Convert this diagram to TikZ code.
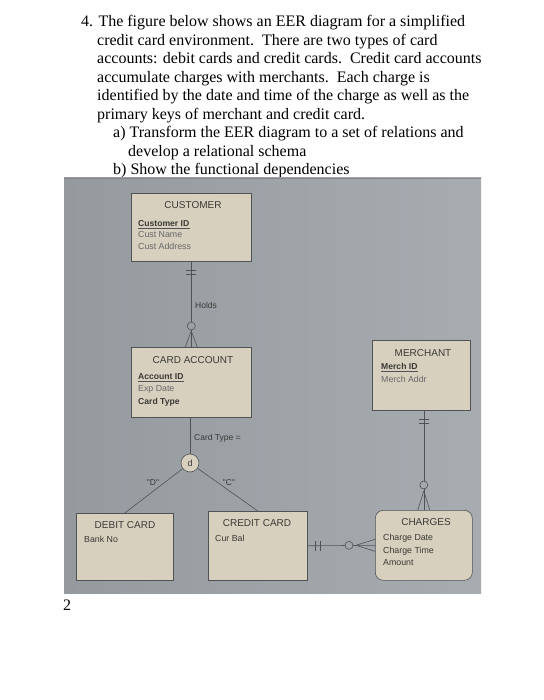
\documentclass[tikz,border=0pt]{standalone}
\usepackage{fontspec}
\setmainfont{Liberation Serif}
\newfontfamily\diag{Liberation Sans}
\usetikzlibrary{calc}
\definecolor{photobgL}{HTML}{959A9F}
\definecolor{photobgR}{HTML}{A7ACB1}
\definecolor{boxc}{HTML}{D8D0BE}
\definecolor{linec}{HTML}{505256}
\definecolor{txtc}{HTML}{3A3936}
\definecolor{txtl}{HTML}{66676A}
\begin{document}
\begin{tikzpicture}[x=1pt,y=-1pt,
  qtext/.style={anchor=base west, inner sep=0, font=\fontsize{16}{18.5}\selectfont},
  ent/.style={draw=linec, fill=boxc, line width=0.6pt, inner sep=0, anchor=north west},
  ttl/.style={anchor=base, inner sep=0, text=txtc, font=\diag\fontsize{10}{12}\selectfont},
  attr/.style={anchor=base west, inner sep=0, text=txtc, font=\diag\fontsize{8.8}{10}\selectfont},
  keyattr/.style={attr, font=\diag\bfseries\fontsize{8.6}{10}\selectfont},
  lattr/.style={attr, text=txtl},
  lbl/.style={inner sep=0, text=txtc, font=\diag\fontsize{8.5}{10}\selectfont},
  conn/.style={draw=linec, line width=0.6pt},
  opt/.style={circle, draw=linec, line width=0.6pt, inner sep=0, minimum size=8}
]
\useasboundingbox (0,0) rectangle (543,700);
\fill[white] (0,0) rectangle (543,700);

% question text
\node[qtext] (l1) at (81,27) {4. The figure below shows an EER diagram for a simplified};
\node[qtext] (l2) at (97,45.5) {credit card environment.\ \ There are two types of card};
\node[qtext] (l3) at (97,64) {accounts: debit cards and credit cards.\ \ Credit card accounts};
\node[qtext] (l4) at (97,82.5) {accumulate charges with merchants.\ \ Each charge is};
\node[qtext] (l5) at (97,101) {identified by the date and time of the charge as well as the};
\node[qtext] (l6) at (97,119.5) {primary keys of merchant and credit card.};
\node[qtext] (l7) at (113,138) {a) Transform the EER diagram to a set of relations and};
\node[qtext] (l8) at (128,156.5) {develop a relational schema};
\node[qtext] (l9) at (113,175) {b) Show the functional dependencies};

% photo background
\shade[left color=photobgL, right color=photobgR] (64,178) rectangle (481,593);
\draw[linec!70, line width=0.8pt] (64,178.4) -- (481,178.4);

% entities
\node[ent, minimum width=120, minimum height=68] (cust) at (131,193) {};
\node[ent, minimum width=120, minimum height=70] (card) at (131,347) {};
\node[ent, minimum width=98, minimum height=70] (merch) at (372,340) {};
\node[ent, minimum width=97, minimum height=67] (debit) at (76,513) {};
\node[ent, minimum width=99, minimum height=69] (credit) at (208,511) {};
\node[ent, rounded corners=8pt, minimum width=97, minimum height=70] (chg) at (375,510) {};

% titles
\node[ttl] (custT) at (193,208.5) {CUSTOMER};
\node[ttl] (cardT) at (193,363.5) {CARD ACCOUNT};
\node[ttl] (merchT) at (423,356.5) {MERCHANT};
\node[ttl] (debitT) at (125,528.5) {DEBIT CARD};
\node[ttl] (creditT) at (257,526.5) {CREDIT CARD};
\node[ttl] (chgT) at (426,525.5) {CHARGES};

% attributes
\node[keyattr] (cid) at (138,226.5) {Customer ID};
\draw[linec, line width=0.5pt] ([yshift=-2.2pt]cid.base west) -- ([yshift=-2.2pt]cid.base east);
\node[lattr] (cname) at (138,238) {Cust Name};
\node[lattr] (caddr) at (138,249.5) {Cust Address};

\node[keyattr] (aid) at (138,379) {Account ID};
\draw[linec, line width=0.5pt] ([yshift=-2.2pt]aid.base west) -- ([yshift=-2.2pt]aid.base east);
\node[lattr] (exp) at (138,391.5) {Exp Date};
\node[keyattr] (ctype) at (138,404) {Card Type};

\node[keyattr] (mid) at (381,369.5) {Merch ID};
\draw[linec, line width=0.5pt] ([yshift=-2.2pt]mid.base west) -- ([yshift=-2.2pt]mid.base east);
\node[lattr] (maddr) at (381,382.5) {Merch Addr};

\node[attr] (bank) at (84,542.5) {Bank No};
\node[attr] (cbal) at (215,541.5) {Cur Bal};
\node[attr] (cdate) at (383,540.5) {Charge Date};
\node[attr] (ctime) at (383,553.5) {Charge Time};
\node[attr] (amt) at (383,565.5) {Amount};

% Holds relationship: customer -- card account
\draw[conn] (cust.south) -- (card.north);
\draw[conn] ($(cust.south)+(-5,9)$) -- ++(10,0);
\draw[conn] ($(cust.south)+(-5,13)$) -- ++(10,0);
\node[opt, fill=photobgL!60!photobgR] (o1) at ($(card.north)+(0,-21)$) {};
\draw[conn] ($(card.north)+(0,-16)$) -- ($(card.north)+(-6,0)$);
\draw[conn] ($(card.north)+(0,-16)$) -- ($(card.north)+(6,0)$);
\node[lbl, anchor=west] (holds) at (195,305) {Holds};

% merchant -- charges
\draw[conn] (merch.south -| chg.north) -- (chg.north);
\draw[conn] ($(merch.south -| chg.north)+(-5,9)$) -- ++(10,0);
\draw[conn] ($(merch.south -| chg.north)+(-5,13)$) -- ++(10,0);
\node[opt, fill=photobgR!80!photobgL] (o2) at ($(chg.north)+(0,-25)$) {};
\draw[conn] ($(chg.north)+(0,-19)$) -- ($(chg.north)+(-6,0)$);
\draw[conn] ($(chg.north)+(0,-19)$) -- ($(chg.north)+(6,0)$);

% credit card -- charges
\draw[conn] (credit.east) -- (chg.west);
\draw[conn] ($(credit.east)+(8,-5)$) -- ++(0,10);
\draw[conn] ($(credit.east)+(13,-5)$) -- ++(0,10);
\node[opt, fill=photobgR!70!photobgL] (o3) at ($(chg.west)+(-26,0)$) {};
\draw[conn] ($(chg.west)+(-19,0)$) -- ($(chg.west)+(0,-6)$);
\draw[conn] ($(chg.west)+(-19,0)$) -- ($(chg.west)+(0,6)$);

% specialization
\node[circle, draw=linec, line width=0.6pt, fill=boxc, minimum size=18, inner sep=0, text=txtc, font=\diag\fontsize{9}{10}\selectfont] (d) at (190,463) {d};
\draw[conn] (card.south -| d.north) -- (d.north);
\draw[conn] (d) -- (debit.north);
\draw[conn] (d) -- (credit.north);
\node[lbl, anchor=west] (ctl) at (194,438) {Card Type =};
\node[lbl] (dl) at (153,483) {"D"};
\node[lbl] (cl) at (229,483) {"C"};

% page number
\node[qtext] (pg) at (63,610) {2};
\end{tikzpicture}
\end{document}
